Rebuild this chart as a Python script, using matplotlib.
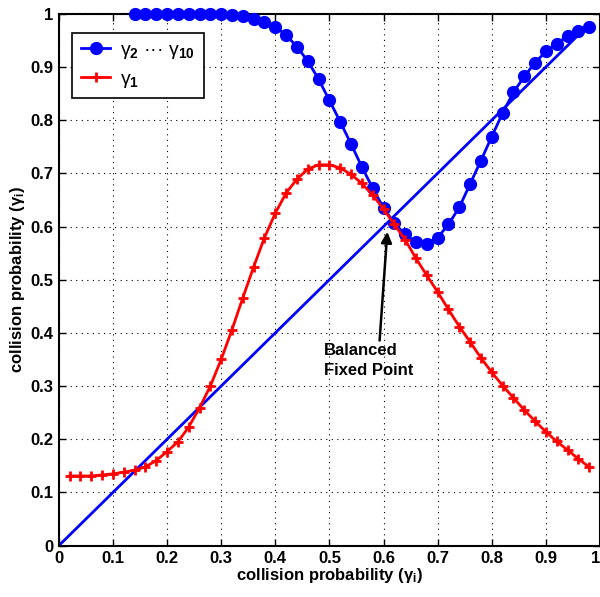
import matplotlib
matplotlib.use('Agg')
import matplotlib.pyplot as plt

plt.rcParams['font.family'] = ['Liberation Sans', 'DejaVu Sans']
plt.rcParams['mathtext.fontset'] = 'custom'
plt.rcParams['mathtext.rm'] = 'Liberation Sans:bold'
plt.rcParams['mathtext.it'] = 'Liberation Sans:bold'
plt.rcParams['mathtext.bf'] = 'Liberation Sans:bold'

# red curve (gamma_1)
red_x = [0.02, 0.04, 0.06, 0.08, 0.10, 0.12, 0.14, 0.16, 0.18, 0.20,
         0.22, 0.24, 0.26, 0.28, 0.30, 0.32, 0.34, 0.36, 0.38, 0.40,
         0.42, 0.44, 0.46, 0.48, 0.50, 0.52, 0.54, 0.56, 0.58, 0.60,
         0.62, 0.64, 0.66, 0.68, 0.70, 0.72, 0.74, 0.76, 0.78, 0.80,
         0.82, 0.84, 0.86, 0.88, 0.90, 0.92, 0.94, 0.96, 0.98]
red_y = [0.131, 0.131, 0.131, 0.133, 0.135, 0.138, 0.142, 0.148, 0.160, 0.177,
         0.195, 0.223, 0.259, 0.300, 0.350, 0.406, 0.466, 0.524, 0.579, 0.625,
         0.663, 0.689, 0.708, 0.716, 0.716, 0.710, 0.698, 0.681, 0.659, 0.633,
         0.604, 0.575, 0.540, 0.508, 0.477, 0.444, 0.412, 0.383, 0.353, 0.326,
         0.301, 0.278, 0.255, 0.234, 0.214, 0.196, 0.180, 0.163, 0.148]

# blue curve (gamma_2 ... gamma_10)
blue_x = [0.14, 0.16, 0.18, 0.20, 0.22, 0.24, 0.26, 0.28, 0.30, 0.32,
          0.34, 0.36, 0.38, 0.40, 0.42, 0.44, 0.46, 0.48, 0.50, 0.52,
          0.54, 0.56, 0.58, 0.60, 0.62, 0.64, 0.66, 0.68, 0.70, 0.72,
          0.74, 0.76, 0.78, 0.80, 0.82, 0.84, 0.86, 0.88, 0.90, 0.92,
          0.94, 0.96, 0.98]
blue_y = [1.0, 1.0, 1.0, 1.0, 1.0, 1.0, 1.0, 1.0, 1.0, 0.998,
          0.995, 0.99, 0.985, 0.975, 0.96, 0.938, 0.911, 0.877, 0.837, 0.797,
          0.755, 0.712, 0.672, 0.635, 0.606, 0.585, 0.570, 0.568, 0.579, 0.604,
          0.636, 0.680, 0.724, 0.769, 0.813, 0.852, 0.882, 0.908, 0.929, 0.944,
          0.958, 0.968, 0.975]

# diagonal y = x
diag_x = [0.0, 0.97]

ticks = [0, 0.1, 0.2, 0.3, 0.4, 0.5, 0.6, 0.7, 0.8, 0.9, 1]
tick_labels = ['0', '0.1', '0.2', '0.3', '0.4', '0.5', '0.6', '0.7', '0.8', '0.9', '1']

fig = plt.figure(figsize=(6.0, 5.97), dpi=100)
ax = fig.add_axes([0.098, 0.086, 0.902, 0.891])

ax.plot(blue_x, blue_y, color='#0000ff', lw=2, marker='o', ms=8.5,
        label='γ$_2$ ··· γ$_{10}$', clip_on=False, zorder=3)
ax.plot(red_x, red_y, color='#ff0000', lw=2, marker='+', ms=7, mew=2,
        label='γ$_1$', zorder=4)
ax.plot(diag_x, diag_x, color='#0000ff', lw=2, zorder=2)

ax.set_xlim(0, 1)
ax.set_ylim(0, 1)
ax.set_xticks(ticks)
ax.set_yticks(ticks)
ax.set_xticklabels(tick_labels, fontsize=12, fontweight='bold')
ax.set_yticklabels(tick_labels, fontsize=12, fontweight='bold')
ax.get_xticklabels()[-1].set_ha('right')
ax.tick_params(direction='in', top=True, right=True, length=5, width=1, pad=4)
ax.grid(True, color='k', linestyle=(0, (1, 4)), linewidth=0.8)
for s in ax.spines.values():
    s.set_linewidth(1.5)

ax.set_xlabel('collision probability (γ$_i$)', fontsize=12, fontweight='bold', labelpad=0)
ax.set_ylabel('collision probability (γ$_i$)', fontsize=12, fontweight='bold', labelpad=2)

ax.annotate('Balanced\nFixed Point', xy=(0.607, 0.59), xytext=(0.49, 0.315),
            fontsize=12, fontweight='bold', ha='left', va='bottom', linespacing=1.4,
            arrowprops=dict(arrowstyle='-|>', color='k', lw=1.8, mutation_scale=16,
                            shrinkA=0, shrinkB=0, relpos=(0.62, 1.0)))

leg = ax.legend(loc='upper left', bbox_to_anchor=(0.025, 0.964), borderaxespad=0,
                fancybox=False, framealpha=1, edgecolor='k', fontsize=14,
                handlelength=1.5, handletextpad=0.5, borderpad=0.45, labelspacing=0.45)
leg.get_frame().set_linewidth(1.2)

fig.savefig('out.png', dpi=100)
